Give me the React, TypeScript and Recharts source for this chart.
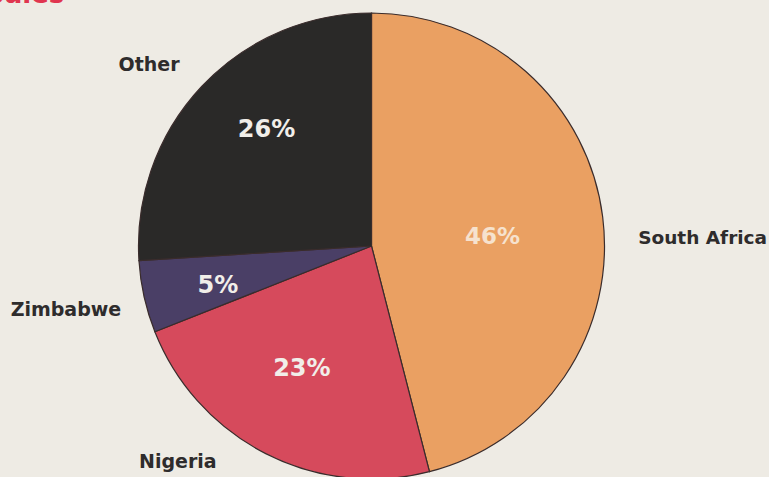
import { Cell, Pie, PieChart } from "recharts";

// market share by country, clockwise from 12 o'clock
const countries = ["South Africa", "Nigeria", "Zimbabwe", "Other"];
const shares = [46, 23, 5, 26];
const sliceColors = ["#EAA062", "#D64A5C", "#4A3F66", "#2A2928"];

const data = countries.map((name, i) => ({ name, value: shares[i] }));

// label placement tweaks: [radius factor, angle shift in degrees]
const pctPlace: Record<string, [number, number]> = {
  "South Africa": [0.521, -2.5],
  Nigeria: [0.603, -2.7],
  Zimbabwe: [0.68, 1.7],
  Other: [0.673, -4.8],
};
const namePlace: Record<string, [number, number, "start" | "middle"]> = {
  "South Africa": [1.145, -5.3, "start"],
  Nigeria: [1.242, -15, "middle"],
  Zimbabwe: [1.339, -0.95, "middle"],
  Other: [1.234, 3.9, "middle"],
};

const RAD = Math.PI / 180;
const FONT = "'DejaVu Sans', sans-serif";

function renderLabel(props: any) {
  const { cx, cy, midAngle, outerRadius, index } = props;
  const name = countries[index];
  const [pr, pa] = pctPlace[name];
  const [nr, na, anchor] = namePlace[name];
  const a1 = (midAngle + pa) * RAD;
  const a2 = (midAngle + na) * RAD;
  const px = cx + outerRadius * pr * Math.cos(a1);
  const py = cy - outerRadius * pr * Math.sin(a1);
  const nx = cx + outerRadius * nr * Math.cos(a2);
  const ny = cy - outerRadius * nr * Math.sin(a2);
  return (
    <g>
      <text
        x={px}
        y={py}
        textAnchor="middle"
        dominantBaseline="central"
        fill={index === 0 ? "#F6E2CE" : "#F1EEE9"}
        fontFamily={FONT}
        fontWeight="bold"
        fontSize={index === 0 ? 23 : 24}
      >
        {shares[index]}%
      </text>
      <text
        x={nx}
        y={ny}
        textAnchor={anchor}
        dominantBaseline="central"
        fill="#2E2C2C"
        fontFamily={FONT}
        fontWeight="bold"
        fontSize={index === 0 ? 18.5 : 19}
      >
        {name}
      </text>
    </g>
  );
}

export default function App() {
  return (
    <div
      style={{
        position: "absolute",
        left: 0,
        top: 0,
        width: 769,
        height: 477,
        overflow: "hidden",
        background: "#EEEBE4",
      }}
    >
      {/* title sits mostly above the crop, as in the scan */}
      <div
        style={{
          position: "absolute",
          left: -14,
          top: -19,
          fontFamily: FONT,
          fontWeight: "bold",
          fontSize: 26,
          lineHeight: "26px",
          color: "#E0354F",
        }}
      >
        Sales
      </div>
      <PieChart width={769} height={477} margin={{ top: 0, right: 0, bottom: 0, left: 0 }}>
        <Pie
          data={data}
          dataKey="value"
          nameKey="name"
          cx={371.5}
          cy={246}
          outerRadius={233}
          startAngle={90}
          endAngle={-270}
          stroke="#3A2C2C"
          strokeWidth={1.2}
          label={renderLabel}
          labelLine={false}
          isAnimationActive={false}
        >
          {data.map((d, i) => (
            <Cell key={d.name} fill={sliceColors[i]} />
          ))}
        </Pie>
      </PieChart>
    </div>
  );
}
